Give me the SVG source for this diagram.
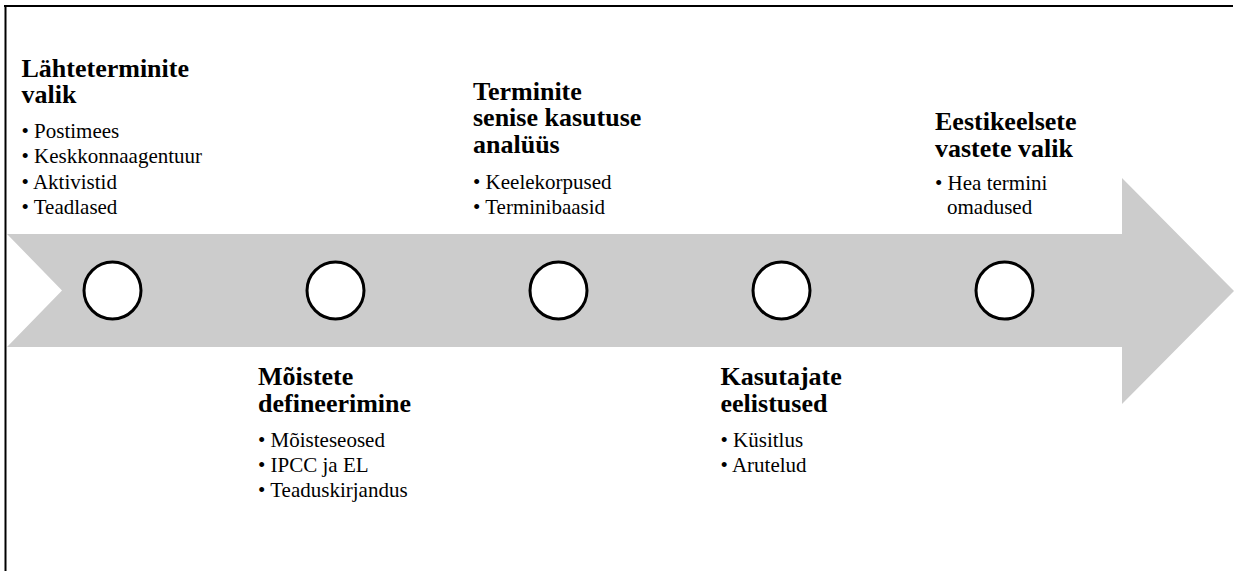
<svg xmlns="http://www.w3.org/2000/svg" width="1234" height="571" viewBox="0 0 1234 571">
<style>
.t{font-family:"Liberation Serif","Times New Roman",serif;font-weight:bold;font-size:26px;fill:#000}
.b{font-family:"Liberation Serif","Times New Roman",serif;font-size:21px;fill:#000}
.c{fill:#fff;stroke:#000;stroke-width:3}
</style>
<rect width="1234" height="571" fill="#fff"/>
<g id="frame" fill="none" stroke="#000" stroke-width="2">
<line x1="4" y1="6" x2="1233" y2="6"/>
<line x1="5.5" y1="5" x2="5.5" y2="571"/>
</g>
<g id="connectors">
<polygon id="arrow" points="7,234 1122,234 1122,178 1234,291 1122,404 1122,347 7,347 62,290.5" fill="#cccccc"/>
</g>
<g id="node1">
<circle class="c" cx="112.5" cy="290.5" r="28.5"/>
<text class="t" x="21.5" y="77">Lähteterminite</text>
<text class="t" x="21.5" y="102.5">valik</text>
<text class="b" x="21.5" y="137.5">• Postimees</text>
<text class="b" x="21.5" y="163">• Keskkonnaagentuur</text>
<text class="b" x="21.5" y="188.5">• Aktivistid</text>
<text class="b" x="21.5" y="213.5">• Teadlased</text>
</g>
<g id="node2">
<circle class="c" cx="335.5" cy="290.5" r="28.5"/>
<text class="t" x="258" y="385">Mõistete</text>
<text class="t" x="258" y="411.5">defineerimine</text>
<text class="b" x="258" y="446.5">• Mõisteseosed</text>
<text class="b" x="258" y="471.5">• IPCC ja EL</text>
<text class="b" x="258" y="496.5">• Teaduskirjandus</text>
</g>
<g id="node3">
<circle class="c" cx="558.5" cy="290.5" r="28.5"/>
<text class="t" x="473" y="100">Terminite</text>
<text class="t" x="473" y="126">senise kasutuse</text>
<text class="t" x="473" y="152.5">analüüs</text>
<text class="b" x="473" y="188.5">• Keelekorpused</text>
<text class="b" x="473" y="213.5">• Terminibaasid</text>
</g>
<g id="node4">
<circle class="c" cx="781.5" cy="290.5" r="28.5"/>
<text class="t" x="720.5" y="385">Kasutajate</text>
<text class="t" x="720.5" y="411.5">eelistused</text>
<text class="b" x="720.5" y="446.5">• Küsitlus</text>
<text class="b" x="720.5" y="471.5">• Arutelud</text>
</g>
<g id="node5">
<circle class="c" cx="1004.5" cy="290.5" r="28.5"/>
<text class="t" x="935" y="130">Eestikeelsete</text>
<text class="t" x="935" y="156.5">vastete valik</text>
<text class="b" x="935" y="190">• Hea termini</text>
<text class="b" x="947" y="213.5">omadused</text>
</g>
</svg>
